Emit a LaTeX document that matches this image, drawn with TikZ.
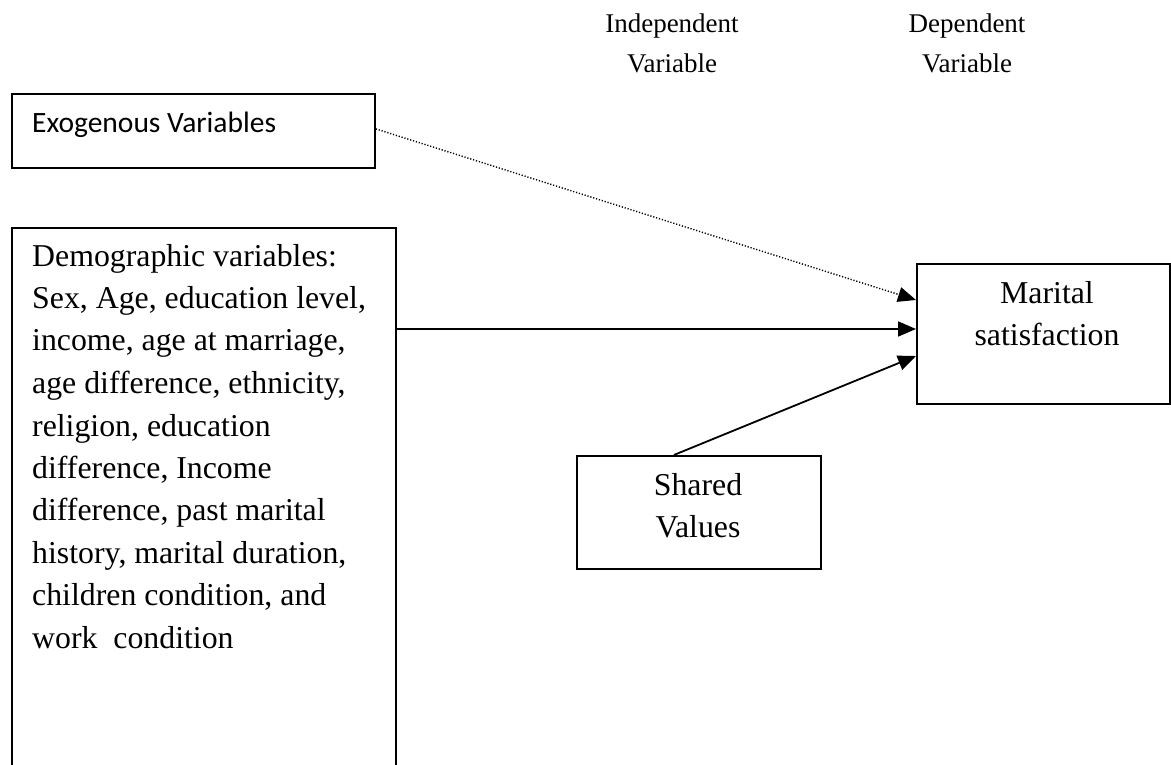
\documentclass[tikz,border=0pt]{standalone}
\usepackage{fontspec}
\setmainfont{Liberation Serif}
\newfontfamily\calfont{Carlito}
\usetikzlibrary{arrows.meta,calc}
\tikzset{
  box/.style={draw, line width=1.8pt, rectangle, inner sep=0pt, anchor=north west},
  conn/.style={line width=1.8pt, -{Triangle[length=18pt,width=15pt]}},
  dotconn/.style={line width=1.4pt, dash pattern=on 1.2pt off 1.8pt, -{Triangle[length=18pt,width=15pt]}},
  txt/.style={inner sep=0pt},
  big/.style={font=\fontsize{31.8}{42.5}\selectfont},
  hdr/.style={font=\fontsize{27}{40}\selectfont}
}
\newcommand{\ctrlines}[1]{\parbox[t]{250pt}{\centering #1}}
\begin{document}
\begin{tikzpicture}[x=1pt,y=-1pt]
\useasboundingbox (0,0) rectangle (1171,765);
% headers
\node[txt, hdr, anchor=base] (indep) at (672,33) {\ctrlines{Independent\\Variable}};
\node[txt, hdr, anchor=base] (dep) at (967,33) {\ctrlines{Dependent\\Variable}};
% boxes
\node[box, minimum width=363pt, minimum height=74pt] (exo) at (11,93) {};
\node[txt, anchor=base west, font=\calfont\fontsize{29.5}{34}\selectfont] (exotext) at (32,133) {Exogenous Variables};
\node[box, minimum width=384pt, minimum height=580pt] (demo) at (11,227) {};
\node[txt, big, anchor=base west] (demotext) at (32,266) {\parbox[t]{360pt}{\raggedright
Demographic variables:\\
Sex, Age, education level,\\
income, age at marriage,\\
age difference, ethnicity,\\
religion, education\\
difference, Income\\
difference, past marital\\
history, marital duration,\\
children condition, and\\
work\ \ condition}};
\node[box, minimum width=253pt, minimum height=140pt] (mar) at (916,263) {};
\node[txt, big, anchor=base] (martext) at (1047,303) {\ctrlines{Marital\\satisfaction}};
\node[box, minimum width=244pt, minimum height=113pt] (sv) at (576,455) {};
\node[txt, big, anchor=base] (svtext) at (698,495) {\ctrlines{Shared\\Values}};
% target points on marital box
\coordinate (m1) at ($(mar.north west)+(0,37)$);
\coordinate (m2) at ($(mar.north west)+(0,66)$);
\coordinate (m3) at ($(mar.north west)+(0,93)$);
\coordinate (svs) at ($(sv.north)+(-25,0)$);
% connectors
\draw[dotconn] ($(exo.east)+(0,-2)$) -- (m1);
\draw[conn] (demo.east |- m2) -- (m2);
\draw[conn] (svs) -- (m3);
\end{tikzpicture}
\end{document}
